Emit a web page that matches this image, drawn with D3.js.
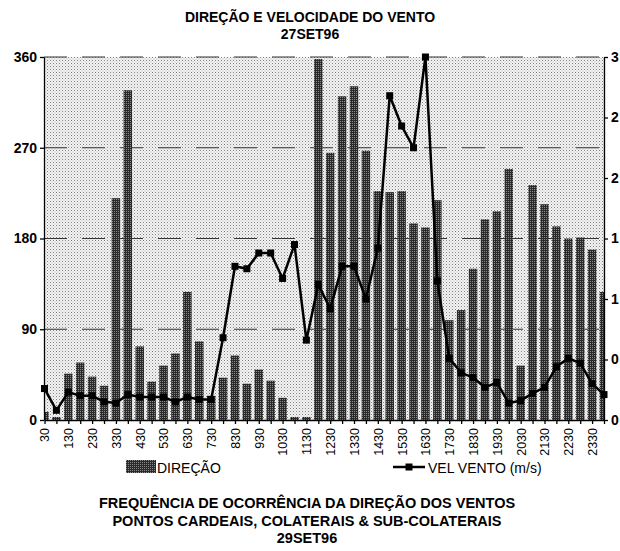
<!DOCTYPE html>
<html>
<head>
<meta charset="utf-8">
<script src="https://cdn.jsdelivr.net/npm/d3@7"></script>
<style>
  body { margin: 0; background: #fff; }
  text { font-family: Arial, "Liberation Sans", sans-serif; fill: #000; }
</style>
</head>
<body>
<div id="chart"></div>
<script>
// horarios (cada 30 min)
var horarios = ["30", "100", "130", "200", "230", "300", "330", "400", "430", "500",
  "530", "600", "630", "700", "730", "800", "830", "900", "930", "1000",
  "1030", "1100", "1130", "1200", "1230", "1300", "1330", "1400", "1430", "1500",
  "1530", "1600", "1630", "1700", "1730", "1800", "1830", "1900", "1930", "2000",
  "2030", "2100", "2130", "2200", "2230", "2300", "2330", "2400"];
var rotulosX = ["30", "130", "230", "330", "430", "530", "630", "730", "830", "930",
  "1030", "1130", "1230", "1330", "1430", "1530", "1630", "1730", "1830", "1930",
  "2030", "2130", "2230", "2330"];
var direcao = [8, 3, 46, 57, 43, 34, 220, 327, 73, 38,
  54, 66, 127, 78, 24, 42, 64, 36, 50, 39,
  22, 3, 3, 358, 265, 321, 331, 267, 227, 226,
  227, 195, 191, 218, 99, 109, 150, 199, 207, 249,
  54, 233, 214, 192, 180, 181, 169, 127];
var velVento = [0.26, 0.08, 0.23, 0.2, 0.2, 0.15, 0.14, 0.21, 0.19, 0.19,
  0.19, 0.15, 0.19, 0.17, 0.17, 0.68, 1.27, 1.25, 1.38, 1.38,
  1.17, 1.45, 0.66, 1.12, 0.92, 1.27, 1.27, 1.0, 1.42, 2.68,
  2.43, 2.25, 3.0, 1.15, 0.51, 0.39, 0.35, 0.27, 0.31, 0.14,
  0.16, 0.22, 0.27, 0.44, 0.51, 0.47, 0.3, 0.21];
var ticksEsq = [0, 90, 180, 270, 360];
var ticksDir = [0, 0.5, 1, 1.5, 2, 2.5, 3];

var margin = {top: 57, right: 16, bottom: 131, left: 44},
    width = 620 - margin.left - margin.right,
    height = 551 - margin.top - margin.bottom;

var svg = d3.select("#chart").append("svg")
    .attr("width", 620)
    .attr("height", 551);

var defs = svg.append("defs");
// fundo pontilhado
var pFundo = defs.append("pattern").attr("id", "fundo")
    .attr("width", 3).attr("height", 3).attr("patternUnits", "userSpaceOnUse");
pFundo.append("rect").attr("width", 3).attr("height", 3).attr("fill", "#f4f4f4");
pFundo.append("rect").attr("width", 1).attr("height", 1).attr("fill", "#808080");
pFundo.append("rect").attr("x", 1.5).attr("y", 1.5).attr("width", 1).attr("height", 1).attr("fill", "#b0b0b0");
// barras
var pBarra = defs.append("pattern").attr("id", "barra")
    .attr("width", 2).attr("height", 2).attr("patternUnits", "userSpaceOnUse");
pBarra.append("rect").attr("width", 2).attr("height", 2).attr("fill", "#2a2a2a");
pBarra.append("rect").attr("width", 1).attr("height", 1).attr("fill", "#8a8a8a");

defs.append("clipPath").attr("id", "area")
  .append("rect").attr("width", width).attr("height", height + 1);

var g = svg.append("g")
    .attr("transform", "translate(" + margin.left + "," + margin.top + ")");

g.append("rect")
    .attr("width", width).attr("height", height)
    .attr("fill", "url(#fundo)");

var x = d3.scalePoint().domain(horarios).range([0.5, width]);
var y = d3.scaleLinear().domain([0, 360]).range([height, 0]);
var y2 = d3.scaleLinear().domain([0, 3]).range([height, 0]);

// linhas de grade tracejadas
g.selectAll(".grade").data(ticksEsq.slice(1)).enter().append("line")
    .attr("x1", 0).attr("x2", width)
    .attr("y1", d => y(d)).attr("y2", d => y(d))
    .attr("stroke", "#333").attr("stroke-width", 1.2)
    .attr("stroke-dasharray", "23,15");

var barW = 8.5;
g.append("g").attr("clip-path", "url(#area)")
  .selectAll("rect").data(direcao).enter().append("rect")
    .attr("x", (d, i) => x(horarios[i]) - barW / 2)
    .attr("y", d => y(d))
    .attr("width", barW)
    .attr("height", d => height - y(d))
    .attr("fill", "url(#barra)");

// eixos
var eixoX = g.append("g")
    .attr("transform", "translate(0," + height + ")")
    .call(d3.axisBottom(x).tickSize(4).tickSizeOuter(0)
      .tickFormat(d => rotulosX.indexOf(d) >= 0 ? d : ""));
eixoX.selectAll("text")
    .attr("transform", "rotate(-90)")
    .attr("text-anchor", "end")
    .attr("x", -8).attr("y", 0).attr("dy", "0.35em")
    .style("font-size", "12.5px");

var eixoY = g.append("g")
    .call(d3.axisLeft(y).tickValues(ticksEsq).tickSize(4).tickSizeOuter(0));
eixoY.selectAll("text").style("font-size", "14px").style("font-weight", "bold");

var eixoY2 = g.append("g")
    .attr("transform", "translate(" + width + ",0)")
    .call(d3.axisRight(y2).tickValues(ticksDir).tickSize(4).tickSizeOuter(0)
      .tickFormat(d => Math.floor(d)));
eixoY2.selectAll("text").style("font-size", "14px").style("font-weight", "bold");

svg.selectAll(".domain, .tick line").attr("stroke", "#000").attr("stroke-width", 1.3);

// linha velocidade
var linha = d3.line()
    .x((d, i) => x(horarios[i]))
    .y(d => y2(d));
g.append("path").datum(velVento)
    .attr("d", linha)
    .attr("fill", "none").attr("stroke", "#000").attr("stroke-width", 2.5);
g.selectAll(".marca").data(velVento).enter().append("rect")
    .attr("x", (d, i) => x(horarios[i]) - 3.5)
    .attr("y", d => y2(d) - 3.5)
    .attr("width", 7).attr("height", 7)
    .attr("fill", "#000");

// titulos
var titulo = ["DIREÇÃO E VELOCIDADE DO VENTO", "27SET96"];
svg.selectAll(".titulo").data(titulo).enter().append("text")
    .attr("x", 310).attr("y", (d, i) => 22 + i * 17)
    .attr("text-anchor", "middle")
    .style("font-size", "14px").style("font-weight", "bold")
    .text(d => d);

var rodape = ["FREQUÊNCIA DE OCORRÊNCIA DA DIREÇÃO DOS VENTOS",
  "PONTOS CARDEAIS, COLATERAIS & SUB-COLATERAIS", "29SET96"];
svg.selectAll(".rodape").data(rodape).enter().append("text")
    .attr("x", 307).attr("y", (d, i) => 508 + i * 17.5)
    .attr("text-anchor", "middle")
    .style("font-size", "14.5px").style("font-weight", "bold")
    .text(d => d);

// legenda
svg.append("rect").attr("x", 126).attr("y", 460).attr("width", 30).attr("height", 13)
    .attr("fill", "url(#barra)");
svg.append("text").attr("x", 157).attr("y", 473)
    .style("font-size", "14px").text("DIREÇÃO");
svg.append("line").attr("x1", 393).attr("x2", 425).attr("y1", 467).attr("y2", 467)
    .attr("stroke", "#000").attr("stroke-width", 2.5);
svg.append("rect").attr("x", 405.5).attr("y", 463.5).attr("width", 7).attr("height", 7)
    .attr("fill", "#000");
svg.append("text").attr("x", 428).attr("y", 473)
    .style("font-size", "14px").text("VEL VENTO (m/s)");
</script>
</body>
</html>
